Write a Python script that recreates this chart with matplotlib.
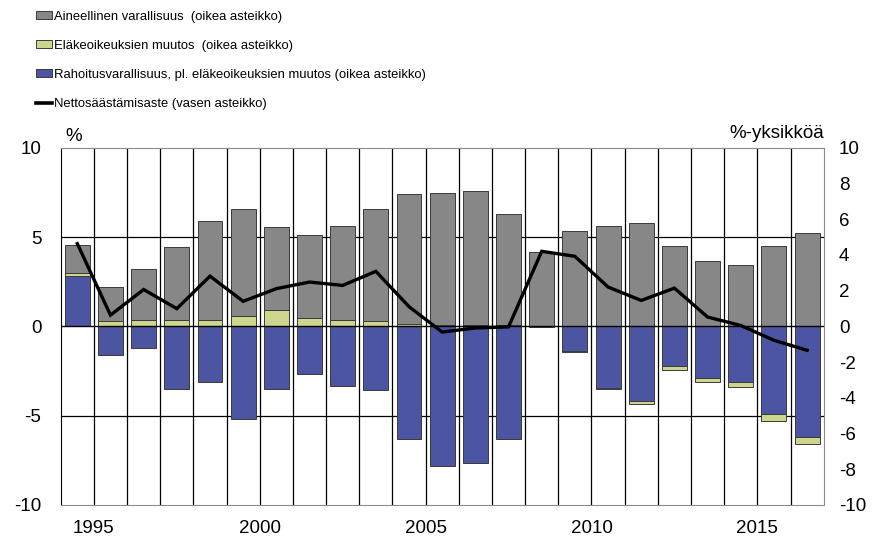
import numpy as np
import matplotlib.pyplot as plt
from matplotlib.patches import Patch
from matplotlib.lines import Line2D

# data, 1995-2017
years = list(range(1995, 2018))
aineellinen = [1.56, 1.94, 2.89, 4.07, 5.51, 6.03, 4.63, 4.60, 5.23, 6.27, 7.24, 7.43,
               7.47, 6.20, 4.15, 5.32, 5.64, 5.79, 4.52, 3.68, 3.46, 4.52, 5.22]
elake = [0.19, 0.28, 0.34, 0.37, 0.37, 0.56, 0.93, 0.49, 0.37, 0.32, 0.15, 0.05,
         0.10, 0.10, 0.0, -0.03, -0.03, -0.13, -0.20, -0.26, -0.26, -0.37, -0.37]
rahoitus = [2.82, -1.58, -1.19, -3.49, -3.12, -5.19, -3.49, -2.69, -3.34, -3.54, -6.29, -7.83,
            -7.65, -6.29, -0.05, -1.40, -3.45, -4.20, -2.22, -2.87, -3.12, -4.91, -6.19]
saastamisaste = [4.63, 0.63, 2.06, 0.99, 2.81, 1.40, 2.11, 2.48, 2.29, 3.08, 1.10, -0.32,
                 -0.09, -0.03, 4.20, 3.92, 2.20, 1.45, 2.14, 0.52, 0.05, -0.78, -1.34]

year_labels = ['1995', '2000', '2005', '2010', '2015']
legend_labels = ['Aineellinen varallisuus  (oikea asteikko)',
                 'Eläkeoikeuksien muutos  (oikea asteikko)',
                 'Rahoitusvarallisuus, pl. eläkeoikeuksien muutos (oikea asteikko)',
                 'Nettosäästämisaste (vasen asteikko)']

gray = '#878787'
green = '#cdd68c'
blue = '#4b55a1'

plt.rcParams['font.family'] = ['Liberation Sans', 'DejaVu Sans']
plt.rcParams['axes.unicode_minus'] = False

fig = plt.figure(figsize=(8.8, 5.45), dpi=100)
ax = fig.add_axes([0.069, 0.0734, 0.867, 0.6556])

x = np.arange(len(years))
pos_base = np.zeros(len(x))
neg_base = np.zeros(len(x))
for vals, color in [(rahoitus, blue), (elake, green), (aineellinen, gray)]:
    v = np.array(vals)
    bottom = np.where(v >= 0, pos_base, neg_base)
    ax.bar(x, v, 0.75, bottom=bottom, color=color, edgecolor='#3a3a3a',
           linewidth=0.7, zorder=2)
    pos_base += np.clip(v, 0, None)
    neg_base += np.clip(v, None, 0)

ax.plot(x, saastamisaste, color='black', linewidth=2.4, zorder=4,
        solid_joinstyle='miter')

# grid: category separators and horizontal lines
for b in x[:-1] + 0.5:
    ax.axvline(b, color='black', linewidth=0.9, zorder=1)
for h in [-5, 5]:
    ax.axhline(h, color='black', linewidth=0.9, zorder=1)
ax.axhline(0, color='black', linewidth=1.0, zorder=3)

ax.set_xlim(-0.5, len(x) - 0.5)
ax.set_ylim(-10, 10)
ax.set_yticks([-10, -5, 0, 5, 10])
ax.set_xticks([years.index(int(y)) + 0.5 for y in year_labels])
ax.set_xticklabels(year_labels)
ax.tick_params(axis='both', length=0, labelsize=13.5, colors='black')
ax.tick_params(axis='x', pad=11)
ax.tick_params(axis='y', pad=14)

for side in ['top', 'bottom', 'right']:
    ax.spines[side].set_color('#8c8c8c')
ax.spines['left'].set_color('black')

ax2 = ax.twinx()
ax2.set_ylim(-10, 10)
ax2.set_yticks(np.arange(-10, 11, 2))
ax2.tick_params(axis='y', length=0, labelsize=13.5, pad=11)
for s in ax2.spines.values():
    s.set_visible(False)

fig.text(0.074, 0.75, '%', fontsize=13.5, va='center', ha='left')
fig.text(0.936, 0.755, '%-yksikköä', fontsize=13.5, va='center', ha='right')

handles = [Patch(facecolor=gray, edgecolor='#3a3a3a', linewidth=0.7),
           Patch(facecolor=green, edgecolor='#3a3a3a', linewidth=0.7),
           Patch(facecolor=blue, edgecolor='#3a3a3a', linewidth=0.7),
           Line2D([0], [0], color='black', linewidth=2.6)]
fig.legend(handles, legend_labels, loc='upper left', bbox_to_anchor=(0.041, 0.98),
           frameon=False, borderaxespad=0, borderpad=0, handlelength=1.2,
           handleheight=0.55, handletextpad=0.15, labelspacing=1.3,
           prop={'size': 9.4})

fig.savefig('out.png', dpi=100)
